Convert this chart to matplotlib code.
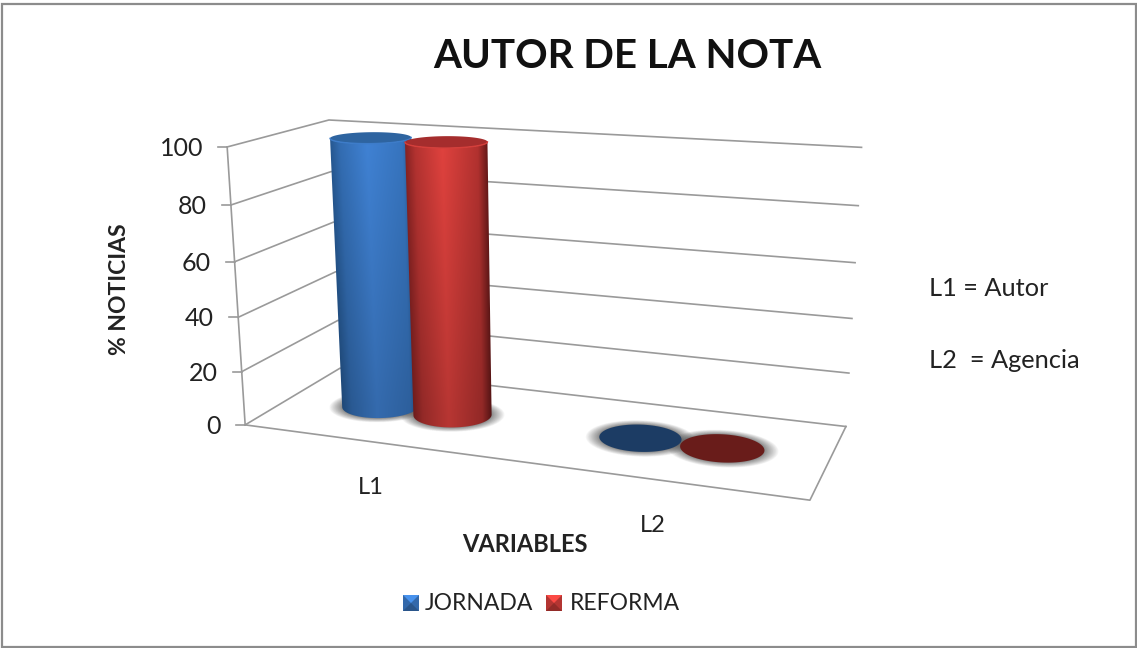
import matplotlib

matplotlib.use("Agg")
import matplotlib.pyplot as plt
import numpy as np
from matplotlib.patches import Polygon, Rectangle

plt.rcParams["font.family"] = ["Lato", "DejaVu Sans"]

# data
categories = ["L1", "L2"]
series_names = ["JORNADA", "REFORMA"]
jornada = [100, 0]
reforma = [100, 0]
y_ticks = [0, 20, 40, 60, 80, 100]
title = "AUTOR DE LA NOTA"
x_title = "VARIABLES"
y_title = "% NOTICIAS"
notes = ["L1 = Autor", "L2  = Agencia"]

# box corners (x, depth, height) and where they land in the picture
BOX_WORLD = [(0, 0, 0), (0, 0, 1), (0, 1, 0), (0, 1, 1), (1, 1, 0), (1, 1, 1), (1, 0, 0)]
BOX_IMAGE = [(244.3, 425), (228, 147), (341, 368), (328, 120), (845.7, 426.7), (861.7, 147.3), (810, 500)]

GRID = "#9a9a9a"
TEXT = "#222222"
BLUE = {"edge_l": (38, 88, 145), "mid": (64, 130, 212), "edge_r": (36, 82, 135), "cap": (46, 100, 160), "floor": (28, 60, 100)}
RED = {"edge_l": (135, 35, 35), "mid": (224, 66, 62), "edge_r": (100, 24, 24), "cap": (165, 45, 45), "floor": (105, 28, 26)}

CAT_X = [0.251, 0.748]
SERIES_DX = 0.072
DEPTH = 0.495
RX, RY = 0.071, 0.19
N_RING = 240


def fit_camera(world, image):
    rows = []
    for (x, y, z), (u, v) in zip(world, image):
        rows.append([x, y, z, 1, 0, 0, 0, 0, -u * x, -u * y, -u * z, -u])
        rows.append([0, 0, 0, 0, x, y, z, 1, -v * x, -v * y, -v * z, -v])
    return np.linalg.svd(np.array(rows, dtype=float))[2][-1].reshape(3, 4)


CAM = fit_camera(BOX_WORLD, BOX_IMAGE)


def project(x, y, z):
    x, y, z = np.broadcast_arrays(x, y, z)
    p = CAM @ np.stack([x, y, z, np.ones_like(x, dtype=float)])
    return np.stack([p[0] / p[2], p[1] / p[2]], axis=-1)


def ring(cx, level, scale=1.0):
    t = np.linspace(0, 2 * np.pi, N_RING, endpoint=False)
    return project(cx + RX * scale * np.cos(t), DEPTH + RY * scale * np.sin(t), level)


def front_arc(points):
    """Lower half of a projected ring, left to right."""
    i_l, i_r = points[:, 0].argmin(), points[:, 0].argmax()
    a = np.arange(i_l, i_r + N_RING + 1 if i_r < i_l else i_r + 1) % N_RING
    b = np.arange(i_r, i_l + N_RING + 1 if i_l < i_r else i_l + 1) % N_RING
    arc = a if points[a, 1].mean() > points[b, 1].mean() else b[::-1]
    return points[arc]


def rgb(c, f=1.0):
    return tuple(np.clip(np.array(c) * f / 255, 0, 1))


def draw_shadow(ax, cx, zorder):
    for s in 1 + 0.33 * np.linspace(1, 0, 26) ** 1.5:
        ax.add_patch(Polygon(ring(cx, 0.0, s), fc="#5a5a5a", ec="none", alpha=0.045, zorder=zorder))


def draw_cylinder(ax, cx, value, colors, zorder):
    level = value / 100
    if level <= 0:
        ax.add_patch(Polygon(ring(cx, 0.0), fc=rgb(colors["floor"]), ec="none", zorder=zorder))
        return

    bottom, top = front_arc(ring(cx, 0.0)), front_arc(ring(cx, level))
    body = Polygon(np.vstack([bottom, top[::-1]]), fc="none", ec="none", transform=ax.transData)
    ax.add_patch(body)

    x0, x1 = min(top[0, 0], bottom[0, 0]) - 2, max(top[-1, 0], bottom[-1, 0]) + 2
    y0, y1 = top[:, 1].min() - 2, bottom[:, 1].max() + 2
    xx, yy = np.meshgrid(np.linspace(x0, x1, 200), np.linspace(y0, y1, 300))
    v = np.clip((yy - top[0, 1]) / (bottom[0, 1] - top[0, 1]), 0, 1)
    left = top[0, 0] + v * (bottom[0, 0] - top[0, 0])
    right = top[-1, 0] + v * (bottom[-1, 0] - top[-1, 0])
    u = np.clip((xx - left) / (right - left), 0, 1)
    stops = [0, 0.12, 0.45, 0.88, 1]
    shade = np.stack([
        np.interp(u, stops, [
            colors["edge_l"][k],
            0.5 * (colors["edge_l"][k] + colors["mid"][k]),
            colors["mid"][k],
            0.55 * (colors["edge_r"][k] + colors["mid"][k]),
            colors["edge_r"][k],
        ])
        for k in range(3)
    ], axis=-1)
    shade = np.clip(shade * (1 - 0.18 * v[..., None]) / 255, 0, 1)
    im = ax.imshow(shade, extent=(x0, x1, y1, y0), aspect="auto", interpolation="bilinear", zorder=zorder)
    im.set_clip_path(body)

    ax.add_patch(Polygon(ring(cx, level), fc=rgb(colors["cap"]), ec="none", zorder=zorder + 0.1))
    ax.plot(top[:, 0], top[:, 1], color=rgb(colors["mid"], 0.95), lw=1.0, zorder=zorder + 0.2)


def draw_legend_key(ax, x, y, size, colors, zorder=5):
    ax.add_patch(Rectangle((x, y), size, size, fc=rgb(colors["mid"], 0.8), ec="none", zorder=zorder))
    cx, cy = x + size / 2, y + size / 2
    ax.add_patch(Polygon([(x, y), (x + size, y), (cx, cy)], fc=rgb(colors["mid"], 1.12), ec="none", zorder=zorder))
    ax.add_patch(Polygon([(x, y + size), (x + size, y + size), (cx, cy)], fc=rgb(colors["mid"], 0.65), ec="none", zorder=zorder))


fig = plt.figure(figsize=(11.37, 6.48), dpi=100)
ax = fig.add_axes([0, 0, 1, 1])
ax.axis("off")

ax.add_patch(Rectangle((1.5, 4), 1134, 642.5, fc="white", ec="#8c8c8c", lw=1.6, zorder=0))

# walls and floor
for tick in y_ticks:
    z = tick / 100
    seg = project([0, 0, 1], [0, 1, 1], z)
    ax.plot(seg[:, 0], seg[:, 1], color=GRID, lw=1.2, zorder=1)
    front = project(0, 0, z)
    ax.plot([front[0] - 9, front[0]], [front[1], front[1]], color=GRID, lw=1.2, zorder=1)
    ax.text(front[0] - 24, front[1] + 1.5, str(tick), ha="right", va="center", fontsize=18, color=TEXT)

edge = project([0, 0], [0, 0], [0, 1])
ax.plot(edge[:, 0], edge[:, 1], color=GRID, lw=1.2, zorder=1)
floor = project([0, 1, 1], [0, 0, 1], 0)
ax.plot(floor[:, 0], floor[:, 1], color=GRID, lw=1.2, zorder=1)

# cylinders, back to front
for i, cat_x in enumerate(CAT_X):
    draw_shadow(ax, cat_x - SERIES_DX, 2 + i)
    draw_shadow(ax, cat_x + SERIES_DX, 2 + i)
    draw_cylinder(ax, cat_x - SERIES_DX, jornada[i], BLUE, 3 + i)
    draw_cylinder(ax, cat_x + SERIES_DX, reforma[i], RED, 3.5 + i)

# text
ax.text(627, 56, title, ha="center", va="center", fontsize=29, fontweight="bold", color="#111111")
ax.text(525, 545, x_title, ha="center", va="center", fontsize=17, fontweight="bold", color=TEXT)
ax.text(119, 289, y_title, ha="center", va="center", rotation=90, fontsize=16.5, fontweight="bold", color=TEXT)
ax.text(371, 487, categories[0], ha="center", va="center", fontsize=17, color=TEXT)
ax.text(653, 525, categories[1], ha="center", va="center", fontsize=17, color=TEXT)
ax.text(929, 288, notes[0], ha="left", va="center", fontsize=18.3, color=TEXT)
ax.text(929, 360, notes[1], ha="left", va="center", fontsize=18.3, color=TEXT)

draw_legend_key(ax, 403, 595, 16, BLUE)
ax.text(425, 604, series_names[0], ha="left", va="center", fontsize=16.5, color=TEXT)
draw_legend_key(ax, 546, 595, 16, RED)
ax.text(570, 604, series_names[1], ha="left", va="center", fontsize=16.5, color=TEXT)

ax.set_xlim(0, 1137)
ax.set_ylim(648, 0)
fig.savefig("out.png", dpi=100)
